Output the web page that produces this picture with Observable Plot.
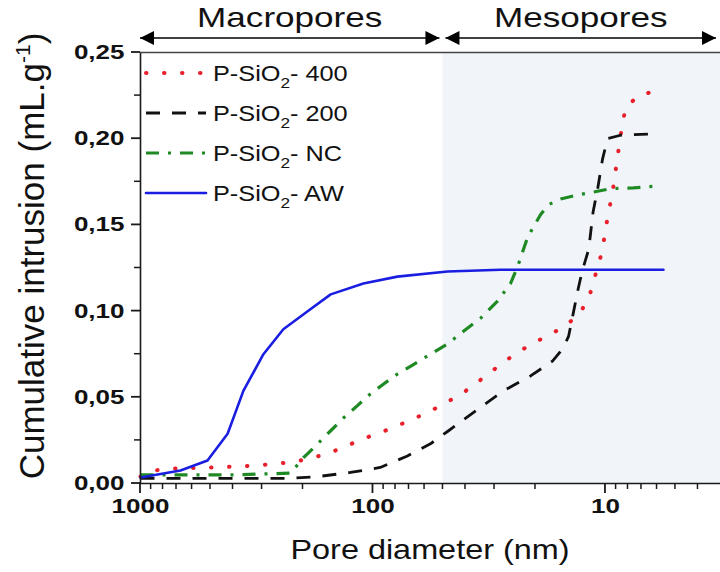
<!DOCTYPE html>
<html><head><meta charset="utf-8">
<script src="https://cdn.jsdelivr.net/npm/d3@7"></script>
<script src="https://cdn.jsdelivr.net/npm/@observablehq/plot@0.6"></script>
<style>html,body{margin:0;padding:0;background:#fff;} #chart{width:720px;height:572px;overflow:hidden;}</style>
</head><body><div id="chart"></div>
<script>
// ---- data (pore diameter in nm, cumulative intrusion in mL/g) ----
const d400 = [1000,879,728,515,361,255,211,180,152,129,110,93,78.5,67,56.6,48.8,42.1,37,31.9,27.7,23.9,20.4,17.6,15.2,13.1,11.8,11.3,10.7,10.3,10,9.7,9.33,9.14,8.88,8.71,8.45,8.2,7.21,5.97];
const v400 = [0.004,0.0075,0.0087,0.0092,0.010,0.0115,0.013,0.015,0.018,0.022,0.026,0.0295,0.0335,0.0375,0.042,0.0468,0.0514,0.057,0.0635,0.070,0.076,0.0814,0.086,0.0906,0.0976,0.107,0.1166,0.127,0.136,0.147,0.1576,0.168,0.178,0.188,0.198,0.208,0.218,0.225,0.228];
const d200 = [1000,700,400,226,173,125,93,71.1,56.6,47.3,35.2,27.5,21.0,16.9,15.2,14.4,13.7,13.1,12.6,11.8,11.3,10.8,10.3,9.8,8.62,6.4];
const v200 = [0.003,0.003,0.003,0.003,0.004,0.0064,0.0093,0.016,0.023,0.0306,0.0433,0.0537,0.0624,0.071,0.0785,0.0855,0.100,0.113,0.123,0.136,0.1576,0.171,0.188,0.200,0.202,0.2027];
const dNC = [1000,700,400,226,199,173,152,134,117,102.5,90,78.5,67,56.6,47.8,40.8,34.5,29.2,25.6,23.7,21.6,19.0,17.6,15.6,13.2,11.3,9.52,7.58,5.97];
const vNC = [0.005,0.005,0.005,0.006,0.015,0.023,0.0306,0.038,0.045,0.052,0.0577,0.0635,0.069,0.075,0.081,0.0883,0.0958,0.1057,0.116,0.127,0.143,0.156,0.1617,0.165,0.1674,0.169,0.171,0.1715,0.1726];
const dAW = [1000,673,515,422,361,296,243,191,152,110,78.5,47.8,28.3,10.4,5.63];
const vAW = [0.0035,0.0075,0.0133,0.0289,0.0537,0.075,0.0895,0.0999,0.1097,0.116,0.120,0.123,0.124,0.124,0.124];

const seriesNames = ["P-SiO2- 400","P-SiO2- 200","P-SiO2- NC","P-SiO2- AW"];
const regions = [{name:"Macropores", from:1000, to:50}, {name:"Mesopores", from:50, to:2}];
const xMajorTicks = [1000,100,10];
const xMinorTicks = [900,800,700,600,500,400,300,200,90,80,70,60,50,40,30,20,9,8,7,6,5,4];
const yMajorTicks = [0,0.05,0.10,0.15,0.20,0.25];
const yMinorTicks = [0.025,0.075,0.125,0.175,0.225];

// ---- styles ----
const styles = [
  {stroke:"#e8202c", strokeWidth:4, strokeDasharray:"0.5 17.5", strokeLinecap:"round"},
  {stroke:"#111111", strokeWidth:2.8, strokeDasharray:"14 12", strokeLinecap:"butt"},
  {stroke:"#1f8a24", strokeWidth:3.2, strokeDasharray:"13 9 3 9", strokeLinecap:"butt"},
  {stroke:"#1a1ee0", strokeWidth:2.6, strokeDasharray:null, strokeLinecap:"round"}
];
const series = [[d400,v400],[d200,v200],[dNC,vNC],[dAW,vAW]].map(([d,v]) => d.map((x,i)=>({d:x, v:v[i]})));

const W = 720, H = 572;
const fmt = v => d3.format(".2f")(v).replace(".", ",");
const FONT = "'Liberation Sans', Arial, sans-serif";
const AX = "#1a1a1a";

const plot = Plot.plot({
  width: W, height: H,
  marginLeft: 140, marginRight: 0, marginTop: 52, marginBottom: 89,
  style: {fontFamily: FONT, background: "transparent", overflow: "visible", color: "#111"},
  x: {type: "log", domain: [1000, 3.2]},
  y: {domain: [0, 0.25]},
  marks: [
    Plot.rect(regions.filter(r => r.name === "Mesopores"), {x1: "from", x2: "to", fill: "#f1f5f9", clip: true}),
    ...series.map((s, i) => Plot.line(s, {x: "d", y: "v", ...styles[i], curve: "linear"})),
    Plot.ruleX([1000], {stroke: AX, strokeWidth: 1.6}),
    Plot.ruleY([0], {stroke: AX, strokeWidth: 1.6}),
    Plot.ruleY([0.25], {stroke: "#444", strokeWidth: 1.5}),
    Plot.axisX({ticks: xMajorTicks, tickSize: 0, tickPadding: 15, tickFormat: d => String(d), label: null, fontSize: 20, fontWeight: "bold"}),
    Plot.axisY({ticks: yMajorTicks, tickSize: 0, tickPadding: 16, tickFormat: fmt, label: null, fontSize: 20, fontWeight: "bold"})
  ]
});
document.getElementById("chart").appendChild(plot);

const svg = d3.select(plot);
const sx = v => plot.scale("x").apply(v);
const sy = v => plot.scale("y").apply(v);
const xLeft = 140, xRight = 716;

// tick marks, positioned through Plot's own scales
const tg = svg.append("g").attr("stroke", AX);
const y0 = sy(0), x0 = sx(1000);
xMinorTicks.forEach(t => tg.append("line").attr("x1", sx(t)).attr("x2", sx(t)).attr("y1", y0).attr("y2", y0 + 6).attr("stroke-width", 1.5));
xMajorTicks.forEach(t => tg.append("line").attr("x1", sx(t)).attr("x2", sx(t)).attr("y1", y0).attr("y2", y0 + 10).attr("stroke-width", 1.8));
yMinorTicks.forEach(t => tg.append("line").attr("y1", sy(t)).attr("y2", sy(t)).attr("x1", x0).attr("x2", x0 - 6).attr("stroke-width", 1.5));
yMajorTicks.forEach(t => tg.append("line").attr("y1", sy(t)).attr("y2", sy(t)).attr("x1", x0).attr("x2", x0 - 9).attr("stroke-width", 1.8));

// stretch tick labels horizontally
function stretch(node, k) {
  const xa = node.getAttribute("x");
  const x = xa && !/em/.test(xa) ? +xa : 0;
  if (xa && !/em/.test(xa)) node.removeAttribute("x");
  const tr = node.getAttribute("transform") || "";
  node.setAttribute("transform", `${tr} translate(${x},0) scale(${k},1)`);
}
svg.selectAll("g[aria-label='x-axis tick label'] text, g[aria-label='y-axis tick label'] text").each(function(){ stretch(this, 1.3); });

// header arrows
const ay = 38;
const g = svg.append("g");
function headAt(x, dir) {
  const L = 14, hw = 7;
  g.append("path").attr("d", `M${x},${ay} L${x - dir*L},${ay-hw} L${x - dir*L},${ay+hw} Z`).attr("fill", "#000");
}
regions.forEach(r => {
  const a = Math.max(xLeft, sx(r.from)) + (r.from === 1000 ? 0 : 3);
  const b = Math.min(xRight, sx(r.to)) - (r.to === 50 ? 3 : 0);
  g.append("line").attr("x1", a).attr("x2", b).attr("y1", ay).attr("y2", ay).attr("stroke", "#000").attr("stroke-width", 1.6);
  headAt(a, -1); headAt(b, 1);
  g.append("text").text(r.name).attr("text-anchor", "middle")
    .attr("font-family", FONT).attr("font-size", 27).attr("fill", "#111")
    .attr("transform", `translate(${(a+b)/2},27) scale(1.3,1)`);
});

// axis titles
svg.append("text").attr("font-family", FONT).attr("font-size", 27).attr("fill", "#111")
  .attr("text-anchor", "middle").attr("transform", `translate(430,559) scale(1.2,1)`).text("Pore diameter (nm)");
const yt = svg.append("text").attr("font-family", FONT).attr("font-size", 35).attr("fill", "#111")
  .attr("text-anchor", "middle").attr("transform", `translate(44,256) rotate(-90)`);
yt.append("tspan").text("Cumulative intrusion (mL.g");
yt.append("tspan").text("-1").attr("font-size", 21).attr("dy", -14);
yt.append("tspan").text(")").attr("dy", 14);

// legend
const lg = svg.append("g");
const rows = [73, 113, 153, 193];
seriesNames.forEach((name, i) => {
  const s = styles[i], y = rows[i];
  lg.append("line").attr("x1", 146).attr("x2", 206).attr("y1", y).attr("y2", y)
    .attr("stroke", s.stroke).attr("stroke-width", s.strokeWidth)
    .attr("stroke-dasharray", s.strokeDasharray).attr("stroke-linecap", s.strokeLinecap);
  const k = name.indexOf("2");
  const pre = name.slice(0, k), post = name.slice(k + 1);
  const t = lg.append("text").attr("font-family", FONT).attr("font-size", 22).attr("fill", "#111")
    .attr("text-anchor", "start")
    .attr("transform", `translate(213,${y+8}) scale(1.15,1)`);
  t.append("tspan").text(pre);
  t.append("tspan").text("2").attr("font-size", 15).attr("dy", 7);
  t.append("tspan").text(post).attr("dy", -7);
});
</script></body></html>
